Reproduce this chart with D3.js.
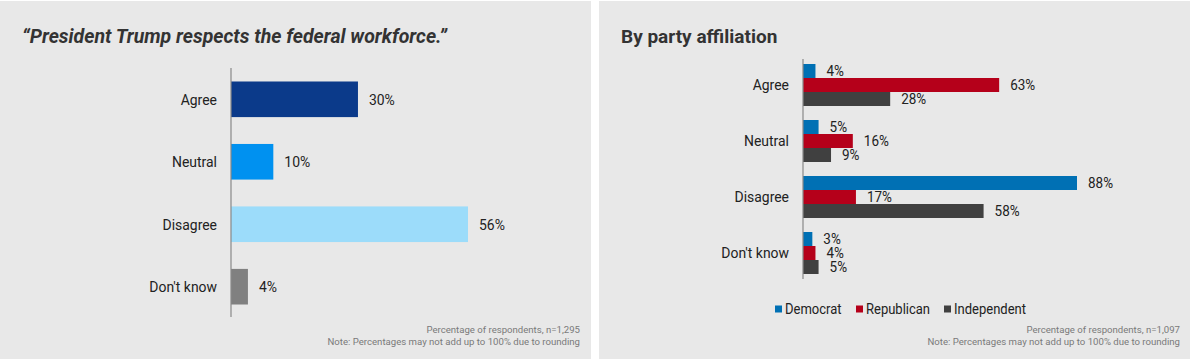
<!DOCTYPE html>
<html><head><meta charset="utf-8">
<script src="https://cdn.jsdelivr.net/npm/d3@7"></script>
<style>
body{margin:0;background:#fff;}
svg{display:block;}
</style></head>
<body>
<svg id="c" width="1190" height="361"></svg>
<script>
const categories = ["Agree","Neutral","Disagree","Don't know"];
const overallValues = [30,10,56,4];
const overallColors = ["#0b3a8a","#0091f0","#9cdcfa","#808080"];
const parties = ["Democrat","Republican","Independent"];
const partyColors = ["#0070b4","#b5001a","#404040"];
const democratValues = [4,5,88,3];
const republicanValues = [63,16,17,4];
const independentValues = [28,9,58,5];
const leftTitle = "\u201CPresident Trump respects the federal workforce.\u201D";
const rightTitle = "By party affiliation";
const leftNotes = ["Percentage of respondents, n=1,295","Note: Percentages may not add up to 100% due to rounding"];
const rightNotes = ["Percentage of respondents, n=1,097","Note: Percentages may not add up to 100% due to rounding"];

const svg = d3.select("#c");
const font = "Roboto, 'Noto Sans', sans-serif";
const S = 0.93; // horizontal squeeze of label text

// panels
svg.append("rect").attr("x",0).attr("y",1).attr("width",591).attr("height",358).attr("fill","#e8e8e8");
svg.append("rect").attr("x",599).attr("y",1).attr("width",591).attr("height",358).attr("fill","#e8e8e8");

function styleLabel(sel, fs){
  sel.attr("font-family",font).attr("font-size",fs||15).attr("fill","#222")
     .attr("transform",`scale(${S},1)`);
}

// ---------- Left chart ----------
const L = svg.append("g");
L.append("text").attr("x",22).attr("y",43).text(leftTitle)
  .attr("font-family",font).attr("font-weight","bold").attr("font-style","italic")
  .attr("font-size",20).attr("fill","#333")
  .attr("textLength",425).attr("lengthAdjust","spacingAndGlyphs");

const lx = d3.scaleLinear().domain([0,56]).range([231,468]);
const ly = d3.scaleBand().domain(categories).range([69,317]).paddingInner(0.43).paddingOuter(0.2);

L.selectAll("rect.bar").data(overallValues).join("rect")
  .attr("x",lx(0)).attr("y",(d,i)=>ly(categories[i]))
  .attr("width",d=>lx(d)-lx(0)).attr("height",ly.bandwidth())
  .attr("fill",(d,i)=>overallColors[i]);
L.selectAll("text.val").data(overallValues).join("text")
  .attr("x",d=>(lx(d)+11)/S).attr("y",(d,i)=>ly(categories[i])+ly.bandwidth()/2)
  .attr("dy","0.36em").text(d=>d+"%").call(styleLabel);
const lAxis = L.append("g").attr("transform",`translate(${lx(0)},0)`).call(d3.axisLeft(ly).tickSize(0).tickPadding(14/S));
lAxis.select(".domain").attr("d",`M0,68V317`).attr("stroke","#888").attr("stroke-width",1.2);
lAxis.selectAll("text").call(styleLabel).attr("dy","0.36em");

L.selectAll("text.note").data(leftNotes).join("text")
  .attr("x",580).attr("y",(d,i)=>333+i*12).attr("text-anchor","end").text(d=>d)
  .attr("font-family",font).attr("font-size",9.6).attr("fill","#7a7a7a");

// ---------- Right chart ----------
const R = svg.append("g");
R.append("text").attr("x",621).attr("y",43).text(rightTitle)
  .attr("font-family",font).attr("font-weight","bold")
  .attr("font-size",19).attr("fill","#333");

const rx = d3.scaleLinear().domain([0,88]).range([803,1077]);
const ry = d3.scaleBand().domain(categories).range([64,274]).paddingInner(0.25).paddingOuter(0);
const rsub = d3.scaleBand().domain(parties).range([0,ry.bandwidth()]);
const series = [democratValues,republicanValues,independentValues];
const rows = [];
categories.forEach((c,ci)=>parties.forEach((p,pi)=>rows.push({c,p,pi,v:series[pi][ci]})));

R.selectAll("rect.bar").data(rows).join("rect")
  .attr("x",rx(0)).attr("y",d=>ry(d.c)+rsub(d.p))
  .attr("width",d=>rx(d.v)-rx(0)).attr("height",rsub.bandwidth())
  .attr("fill",d=>partyColors[d.pi]);
R.selectAll("text.val").data(rows).join("text")
  .attr("x",d=>(rx(d.v)+11)/S).attr("y",d=>ry(d.c)+rsub(d.p)+rsub.bandwidth()/2)
  .attr("dy","0.36em").text(d=>d.v+"%").call(styleLabel, 14.5);
const rAxis = R.append("g").attr("transform",`translate(${rx(0)},0)`).call(d3.axisLeft(ry).tickSize(0).tickPadding(14/S));
rAxis.select(".domain").attr("d",`M0,59V279`).attr("stroke","#888").attr("stroke-width",1.2);
rAxis.selectAll("text").call(styleLabel).attr("dy","0.36em");

// legend
const legX = [775,856,944];
const leg = R.selectAll("g.leg").data(parties).join("g").attr("transform",(d,i)=>`translate(${legX[i]},309)`);
leg.append("rect").attr("x",0).attr("y",-3.5).attr("width",7).attr("height",7).attr("fill",(d,i)=>partyColors[i]);
leg.append("text").attr("x",10/S).attr("y",0).attr("dy","0.36em").text(d=>d).call(styleLabel, 14);

R.selectAll("text.note").data(rightNotes).join("text")
  .attr("x",1180).attr("y",(d,i)=>333+i*12).attr("text-anchor","end").text(d=>d)
  .attr("font-family",font).attr("font-size",9.6).attr("fill","#7a7a7a");
</script>
</body></html>
